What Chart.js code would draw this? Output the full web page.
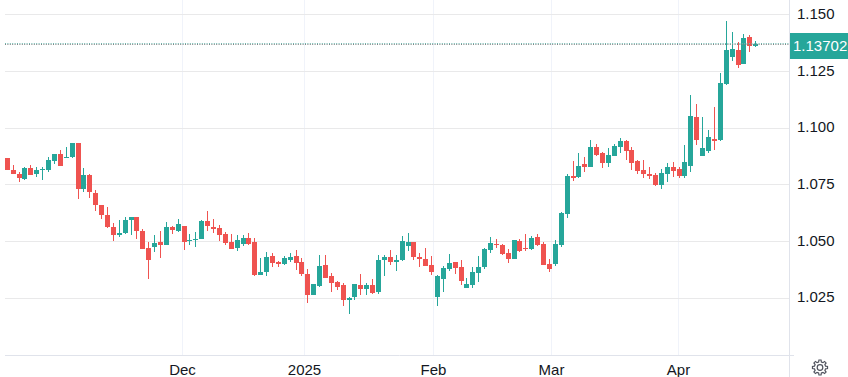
<!DOCTYPE html>
<html>
<head>
<meta charset="utf-8">
<style>
html,body{margin:0;padding:0;background:#fff;overflow:hidden}
#wrap{width:848px;height:377px;position:relative}
</style>
</head>
<body>
<div id="wrap"><canvas id="chart" width="848" height="377"></canvas></div>
<script src="https://cdn.jsdelivr.net/npm/chart.js@4/dist/chart.umd.min.js"></script>
<script>
/* ===== Data ===== */
const opens = [
  1.0871,1.0818,1.0800,1.0778,1.0826,1.0797,1.0815,1.0818,1.0857,1.0888,1.0871,1.0872,1.0937,1.0731,1.0796,1.0716,
  1.0663,1.0619,1.0566,1.0528,1.0537,1.0594,1.0610,1.0549,1.0474,1.0475,1.0500,1.0487,1.0566,1.0549,1.0571,1.0502,
  1.0506,1.0510,1.0590,1.0563,1.0559,1.0532,1.0497,1.0471,1.0488,1.0515,1.0497,1.0352,1.0365,1.0435,1.0409,1.0400,
  1.0418,1.0435,1.0409,1.0356,1.0263,1.0303,1.0396,1.0347,1.0321,1.0307,1.0241,1.0255,1.0307,1.0290,1.0307,1.0277,
  1.0418,1.0431,1.0409,1.0418,1.0479,1.0497,1.0431,1.0422,1.0396,1.0255,1.0334,1.0378,1.0409,1.0387,1.0294,1.0307,
  1.0360,1.0387,1.0462,1.0488,1.0484,1.0449,1.0422,1.0501,1.0471,1.0466,1.0519,1.0488,1.0400,1.0400,1.0484,1.0624,
  1.0791,1.0787,1.0844,1.0831,1.0919,1.0893,1.0849,1.0879,1.0919,1.0946,1.0906,1.0857,1.0818,1.0800,1.0796,1.0751,
  1.0800,1.0831,1.0822,1.0791,1.0835,1.1049,1.0877,1.0898,1.0951,1.0947,1.1195,1.1314,1.1345,1.1283,1.1403,1.1363
];
const highs = [
  1.0871,1.0840,1.0809,1.0831,1.0840,1.0831,1.0831,1.0875,1.0888,1.0906,1.0919,1.0937,1.0937,1.0826,1.0800,1.0729,
  1.0663,1.0654,1.0584,1.0597,1.0610,1.0610,1.0610,1.0557,1.0500,1.0531,1.0549,1.0588,1.0571,1.0602,1.0571,1.0535,
  1.0544,1.0594,1.0634,1.0599,1.0572,1.0541,1.0532,1.0528,1.0528,1.0537,1.0515,1.0427,1.0453,1.0449,1.0413,1.0435,
  1.0449,1.0462,1.0427,1.0378,1.0312,1.0440,1.0440,1.0360,1.0325,1.0316,1.0255,1.0312,1.0356,1.0316,1.0334,1.0440,
  1.0440,1.0462,1.0440,1.0524,1.0537,1.0497,1.0449,1.0471,1.0435,1.0352,1.0391,1.0444,1.0409,1.0418,1.0338,1.0387,
  1.0435,1.0471,1.0519,1.0510,1.0488,1.0466,1.0506,1.0510,1.0532,1.0524,1.0532,1.0497,1.0422,1.0506,1.0629,1.0800,
  1.0857,1.0893,1.0875,1.0950,1.0932,1.0897,1.0915,1.0932,1.0959,1.0950,1.0919,1.0862,1.0862,1.0831,1.0804,1.0822,
  1.0849,1.0853,1.0831,1.0928,1.1146,1.1106,1.1049,1.0991,1.1093,1.1243,1.1473,1.1425,1.1381,1.1416,1.1412,1.1385
];
const lows = [
  1.0815,1.0797,1.0765,1.0774,1.0793,1.0784,1.0771,1.0809,1.0844,1.0832,1.0871,1.0871,1.0687,1.0718,1.0691,1.0634,
  1.0599,1.0559,1.0502,1.0519,1.0532,1.0528,1.0510,1.0466,1.0334,1.0453,1.0427,1.0487,1.0532,1.0544,1.0462,1.0484,
  1.0475,1.0510,1.0546,1.0537,1.0501,1.0484,1.0466,1.0457,1.0479,1.0484,1.0347,1.0352,1.0347,1.0387,1.0387,1.0396,
  1.0409,1.0374,1.0347,1.0228,1.0263,1.0299,1.0338,1.0277,1.0285,1.0215,1.0180,1.0241,1.0263,1.0263,1.0268,1.0268,
  1.0347,1.0396,1.0369,1.0413,1.0457,1.0418,1.0387,1.0391,1.0352,1.0215,1.0277,1.0369,1.0356,1.0307,1.0294,1.0294,
  1.0321,1.0378,1.0449,1.0471,1.0440,1.0404,1.0422,1.0453,1.0457,1.0462,1.0479,1.0396,1.0365,1.0391,1.0475,1.0606,
  1.0769,1.0782,1.0809,1.0831,1.0879,1.0826,1.0831,1.0879,1.0893,1.0862,1.0818,1.0800,1.0782,1.0778,1.0747,1.0734,
  1.0765,1.0787,1.0782,1.0782,1.0809,1.0925,1.0877,1.0889,1.0903,1.0942,1.1190,1.1296,1.1265,1.1283,1.1336,1.1358
];
const closes = [
  1.0815,1.0797,1.0779,1.0826,1.0793,1.0818,1.0822,1.0862,1.0888,1.0832,1.0875,1.0937,1.0731,1.0796,1.0718,1.0660,
  1.0616,1.0563,1.0528,1.0540,1.0597,1.0610,1.0546,1.0466,1.0418,1.0496,1.0487,1.0566,1.0553,1.0580,1.0497,1.0509,
  1.0513,1.0590,1.0568,1.0554,1.0528,1.0493,1.0466,1.0506,1.0515,1.0488,1.0352,1.0365,1.0431,1.0404,1.0400,1.0427,
  1.0431,1.0404,1.0356,1.0263,1.0312,1.0391,1.0338,1.0316,1.0299,1.0241,1.0250,1.0312,1.0290,1.0307,1.0272,1.0418,
  1.0431,1.0409,1.0418,1.0501,1.0497,1.0431,1.0422,1.0391,1.0365,1.0347,1.0382,1.0404,1.0382,1.0325,1.0312,1.0365,
  1.0387,1.0466,1.0493,1.0485,1.0444,1.0422,1.0506,1.0457,1.0466,1.0515,1.0484,1.0396,1.0378,1.0488,1.0628,1.0791,
  1.0782,1.0835,1.0831,1.0919,1.0884,1.0849,1.0884,1.0923,1.0946,1.0901,1.0849,1.0813,1.0800,1.0791,1.0751,1.0804,
  1.0831,1.0813,1.0791,1.0853,1.1053,1.0947,1.0913,1.0960,1.0942,1.1199,1.1345,1.1350,1.1279,1.1398,1.1363,1.13702
];

const monthLabels = ['Dec','2025','Feb','Mar','Apr'];
const monthIndex  = [29.73,50.43,72.32,92.35,113.9];   // bar position of each month line
const priceTicks  = [1.025,1.05,1.075,1.1,1.125,1.15];
const lastPrice   = 1.13702;

const UP = '#26a69a', DOWN = '#ef5350';
const FONT = '"Liberation Sans",Arial,sans-serif';

const barColor = i => closes[i] >= opens[i] ? UP : DOWN;

/* ===== Plugins ===== */
// bars land on whole pixels, otherwise the 1px wicks go blurry
const snapBars = {
  id:'snapBars',
  afterDatasetsUpdate(chart){
    chart.data.datasets.forEach((d,n) => {
      chart.getDatasetMeta(n).data.forEach(el => {
        el.x = Math.floor(el.x) + 0.5;
        el.y = Math.round(el.y);
        el.base = Math.round(el.base);
        if(el.base === el.y) el.base = el.y + 1;
        el.height = el.base - el.y;
      });
    });
  }
};

const whiteBg = {
  id:'whiteBg',
  beforeDraw(chart){
    const c = chart.ctx;
    c.save();
    c.fillStyle = '#fff';
    c.fillRect(0,0,chart.width,chart.height);
    c.restore();
  }
};

const drawGear = (c,cx,cy) => {
  const teeth = 8, outer = 7.6, inner = 5.7;
  c.save();
  c.strokeStyle = '#50535e';
  c.lineWidth = 1.2;
  c.beginPath();
  for(let t=0;t<teeth;t++){
    const a = t/teeth*Math.PI*2 - Math.PI/2, w = Math.PI/teeth;
    const pts = [[inner,a-w*.62],[outer,a-w*.36],[outer,a+w*.36],[inner,a+w*.62]];
    pts.forEach(([r,an],k) => {
      const x = cx+r*Math.cos(an), y = cy+r*Math.sin(an);
      if(t===0 && k===0) c.moveTo(x,y); else c.lineTo(x,y);
    });
  }
  c.closePath();
  c.stroke();
  c.beginPath(); c.arc(cx,cy,2.8,0,Math.PI*2); c.stroke();
  c.restore();
};

const chrome = {
  id:'chrome',
  afterDraw(chart){
    const {ctx:c, chartArea:{left,right,bottom}, scales:{y}} = chart;
    const py = Math.round(y.getPixelForValue(lastPrice)) ;
    c.save();
    // axis frame
    c.strokeStyle = '#e0e3eb';
    c.lineWidth = 1;
    c.beginPath();
    c.moveTo(left,bottom+.5); c.lineTo(right+5,bottom+.5);
    c.moveTo(right+.5,0); c.lineTo(right+.5,chart.height);
    c.stroke();
    // last price line, teal dots with a grey row under them
    c.setLineDash([1,1.4]);
    c.strokeStyle = '#6fb5ae';
    c.beginPath(); c.moveTo(left,py-.5); c.lineTo(right,py-.5); c.stroke();
    c.strokeStyle = '#7d8785';
    c.beginPath(); c.moveTo(left,py+.5); c.lineTo(right,py+.5); c.stroke();
    c.setLineDash([]);
    // last price tag
    c.fillStyle = UP;
    c.fillRect(right+1,py-11,chart.width-right-1,26);
    c.fillStyle = '#fff';
    c.font = '15px '+FONT;
    c.textBaseline = 'middle';
    c.fillText(lastPrice.toFixed(5),right+4,py+3);
    c.restore();
    drawGear(c,820,367.5);
  }
};

// drop the half-label margins Chart.js leaves round the plot
const noScalePad = s => { s.paddingTop = 0; s.paddingBottom = 0; s.paddingLeft = 0; s.paddingRight = 0; };

/* ===== Chart ===== */
const canvas = document.getElementById('chart');
const ctx = canvas.getContext('2d',{alpha:false});

new Chart(ctx, {
  type:'bar',
  plugins:[whiteBg,snapBars,chrome],
  data:{
    datasets:[
      {label:'Wick', data:opens.map((_,i)=>({x:i,y:[lows[i],highs[i]]})),
        barThickness:1, grouped:false, inflateAmount:0, backgroundColor:c=>barColor(c.dataIndex), order:2},
      {label:'Body', data:opens.map((_,i)=>({x:i,y:[opens[i],closes[i]]})),
        barThickness:5, grouped:false, inflateAmount:0, backgroundColor:c=>barColor(c.dataIndex), order:1},
    ]
  },
  options:{
    responsive:false,
    animation:false,
    layout:{padding:{left:5,right:0,top:0,bottom:0}},
    plugins:{legend:{display:false},tooltip:{enabled:false}},
    events:[],
    scales:{
      x:{
        type:'linear', offset:false, min:-0.39, max:132.65,
        afterBuildTicks(s){ s.ticks = monthIndex.map(v=>({value:v})); },
        afterFit(s){ s.height = 22; noScalePad(s); },
        grid:{color:'#f0f3fa',drawTicks:false,offset:false},
        border:{display:false},
        ticks:{autoSkip:false,maxRotation:0,padding:7,color:'#131722',font:{family:FONT,size:15},
          callback:(v,i)=>monthLabels[i]}
      },
      y:{
        position:'right', min:1.0000, max:1.1566,
        afterBuildTicks(s){ s.ticks = priceTicks.map(v=>({value:v})); },
        afterFit(s){ s.width = 59; noScalePad(s); },
        grid:{color:'#e9e9ea',drawTicks:false},
        border:{display:false},
        ticks:{padding:8,color:'#131722',font:{family:FONT,size:15},
          callback:v=>v.toFixed(3)}
      }
    }
  }
});
</script>
</body>
</html>
